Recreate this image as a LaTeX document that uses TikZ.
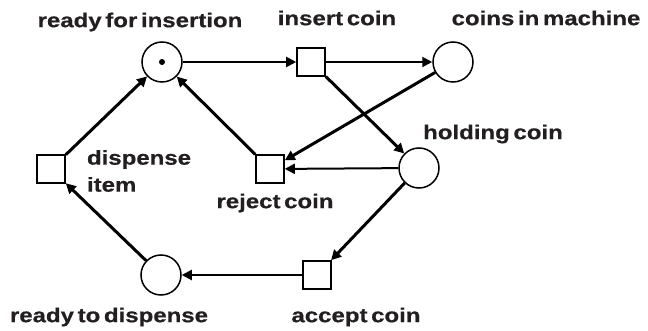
\documentclass[tikz,border=0pt]{standalone}
\usepackage{fontspec}
\newfontfamily\lblfont{Liberation Sans}[FakeStretch=1.2,WordSpace=0.55,BoldFeatures={FakeBold=0.6}]
\usetikzlibrary{arrows.meta}
\definecolor{ink}{RGB}{35,31,32}

\begin{document}
\begin{tikzpicture} [x=1pt,y=-1pt,line width=2pt,
    >={Triangle[length=10pt,width=10pt]},
    place/.style={circle,draw,line width=1.5pt,minimum size=40pt,inner sep=0pt},
    transition/.style={rectangle,draw,line width=1.6pt,minimum size=28pt,inner sep=0pt},
    lbl/.style={inner sep=0pt,text=ink,font=\lblfont\bfseries\fontsize{20}{27}\selectfont}]

  \useasboundingbox (0,0) rectangle (648,331);

  % places and transitions
  \node[place] (ready) at (162,62) {};
  \node[transition] (insert) at (311,62) {};
  \node[place] (coins) at (453,62) {};
  \node[place] (holding) at (419,168) {};
  \node[transition] (reject) at (270,169) {};
  \node[transition] (dispense) at (51,169) {};
  \node[place] (todisp) at (161,275) {};
  \node[transition] (accept) at (317,275) {};

  % the token
  \fill (ready) circle (3pt);

  % names
  \node[lbl] (l1) at (140,22) {ready for insertion};
  \node[lbl] (l2) at (337,18) {insert coin};
  \node[lbl] (l3) at (546,18) {coins in machine};
  \node[lbl] (l4) at (493,134) {holding coin};
  \node[lbl,anchor=west,align=left] (l5) at (86,171) {dispense\\item};
  \node[lbl] (l6) at (275,203) {reject coin};
  \node[lbl] (l7) at (109,317) {ready to dispense};
  \node[lbl] (l8) at (356,317) {accept coin};

  \path[->]
    (ready) edge (insert)
    (insert) edge (coins)
    (holding) edge (reject)
    (accept) edge (todisp);

  \path[->,line width=3pt]
    (insert) edge (holding)
    (coins) edge (reject)
    (reject) edge (ready)
    (holding) edge (accept)
    (todisp) edge (dispense)
    (dispense) edge (ready);

\end{tikzpicture}
\end{document}
